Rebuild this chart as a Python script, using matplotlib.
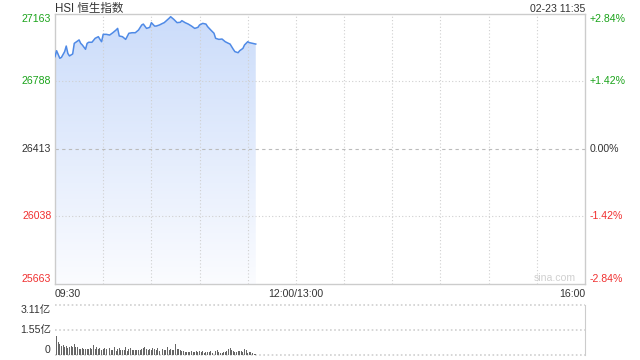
import numpy as np
import matplotlib
matplotlib.use("Agg")
import matplotlib.pyplot as plt
from matplotlib.patches import Polygon

plt.rcParams['font.family'] = ['Liberation Sans', 'Noto Sans CJK SC', 'DejaVu Sans']

# ---- data ----
prev_close = 26413
y_ticks = [27163, 26788, 26413, 26038, 25663]
pct_labels = ["+2.84%", "+1.42%", "0.00%", "-1.42%", "-2.84%"]
tick_colors = ["#1aa31a", "#1aa31a", "#333333", "#f03030", "#f03030"]
x_labels = ["09:30", "12:00/13:00", "16:00"]
x_label_pos = [0, 150, 330]   # trading minutes since 09:30 (lunch break removed)

# minute since open, index level
minutes = [0, 1, 3, 4, 6, 7, 8, 9, 11, 12, 15, 16, 17, 19, 20, 21, 23, 25, 27, 28,
           29, 30, 32, 34, 36, 38, 39, 40, 42, 44, 46, 48, 50, 52, 54, 55, 57, 59, 60, 62,
           63, 65, 67, 68, 71, 72, 74, 76, 78, 79, 81, 83, 85, 87, 89, 90, 92, 94, 95, 97,
           99, 100, 102, 104, 106, 108, 109, 111, 112, 114, 115, 117, 118, 120, 121, 123, 125]
prices = [26926, 26959, 26917, 26922, 26954, 26985, 26944, 26930, 26941, 27000,
          27019, 27000, 26991, 26967, 27000, 27006, 27006, 27028, 27037, 27022,
          27009, 27050, 27050, 27046, 27059, 27074, 27083, 27041, 27037, 27022,
          27056, 27059, 27059, 27074, 27102, 27107, 27083, 27089, 27115, 27096,
          27096, 27102, 27111, 27115, 27139, 27148, 27133, 27115, 27117, 27126,
          27115, 27107, 27096, 27083, 27089, 27102, 27111, 27107, 27093, 27074,
          27056, 27028, 27022, 27024, 27009, 27000, 26996, 26967, 26954, 26948,
          26959, 26972, 26991, 27009, 27004, 27000, 26996]

# volume per minute, in 亿
volume = [3.11, 1.18, 0.81, 0.66, 0.56, 0.60, 0.52, 0.56, 0.46, 0.50,
          0.56, 0.52, 0.66, 0.52, 0.50, 0.40, 0.40, 0.46, 0.40, 0.35,
          0.40, 0.40, 0.42, 0.35, 0.60, 0.35, 0.52, 0.35, 0.46, 0.30,
          0.40, 0.46, 0.35, 0.40, 0.42, 0.31, 0.31, 0.50, 0.25, 0.35,
          0.41, 0.31, 0.30, 0.31, 0.50, 0.25, 0.35, 0.41, 0.30, 0.31,
          0.29, 0.31, 0.31, 0.28, 0.40, 0.46, 0.52, 0.40, 0.31, 0.35,
          0.30, 0.46, 0.40, 0.31, 0.43, 0.25, 0.31, 0.35, 0.31, 0.28,
          0.50, 0.31, 0.35, 0.31, 0.28, 0.70, 0.40, 0.40, 0.30, 0.25,
          0.25, 0.20, 0.19, 0.19, 0.20, 0.25, 0.21, 0.19, 0.25, 0.19,
          0.23, 0.19, 0.22, 0.15, 0.19, 0.20, 0.19, 0.23, 0.15, 0.21,
          0.22, 0.29, 0.19, 0.10, 0.15, 0.19, 0.18, 0.27, 0.35, 0.41,
          0.29, 0.25, 0.19, 0.19, 0.23, 0.23, 0.25, 0.19, 0.35, 0.28,
          0.15, 0.19, 0.18, 0.15, 0.06, 0.05]
vol_ticks = [0, 1.55, 3.11]
vol_labels = ["0", "1.55亿", "3.11亿"]

W, H = 640, 360
fig = plt.figure(figsize=(6.4, 3.6), dpi=100)
fig.patch.set_facecolor("white")

ax = fig.add_axes([55 / W, (H - 284) / H, 530 / W, 270 / H])
axv = fig.add_axes([55 / W, (H - 355) / H, 530 / W, 50 / H])

grid_c = "#d0d0d0"
fs = 7.6

# ---- price panel ----
ax.set_xlim(0, 330)
ax.set_ylim(y_ticks[-1], y_ticks[0])
ax.set_xticks([])
ax.set_yticks([])
for s in ax.spines.values():
    s.set_color("#cccccc")
    s.set_linewidth(1)

# gradient fill under the line
xs = np.array(minutes, dtype=float)
ys = np.array(prices, dtype=float)
poly = np.vstack([np.column_stack([xs, ys]),
                  [[xs[-1], y_ticks[-1]], [xs[0], y_ticks[-1]]]])
patch = Polygon(poly, closed=True, facecolor="none", edgecolor="none")
ax.add_patch(patch)
top_c = np.array([203, 220, 250]) / 255
bot_c = np.array([251, 252, 255]) / 255
t = np.linspace(0, 1, 256)[:, None]
grad = (top_c * (1 - t) + bot_c * t)[:, None, :]
im = ax.imshow(grad, extent=[0, 330, y_ticks[-1], y_ticks[0]], aspect="auto",
               origin="upper", zorder=1)
im.set_clip_path(patch)

# grid drawn over the fill
for xm in range(30, 330, 30):
    ax.axvline(xm, color=grid_c, lw=0.8, ls=(0, (1, 2)), zorder=2)
for yv in y_ticks[1:-1]:
    if yv == prev_close:
        ax.axhline(yv, color="#bbbbbb", lw=0.8, ls=(0, (3, 3)), zorder=2)
    else:
        ax.axhline(yv, color=grid_c, lw=0.8, ls=(0, (1, 2)), zorder=2)

ax.plot(xs, ys, color="#4f8ae6", lw=1.1, zorder=3)

# y labels both sides
for i, (yv, pl, c) in enumerate(zip(y_ticks, pct_labels, tick_colors)):
    va = "top" if i == 0 else ("bottom" if i == len(y_ticks) - 1 else "center")
    ax.text(-0.007, yv, str(yv), transform=ax.get_yaxis_transform(),
            ha="right", va=va, color=c, fontsize=fs)
    ax.text(1.009, yv, pl, transform=ax.get_yaxis_transform(),
            ha="left", va=va, color=c, fontsize=fs)

# x labels
for xp, lab in zip(x_label_pos, x_labels):
    ha = "left" if xp == 0 else ("right" if xp == 330 else "center")
    ax.text(xp, -0.018, lab, transform=ax.get_xaxis_transform(),
            ha=ha, va="top", color="#333333", fontsize=fs)

ax.text(0, 1.008, "HSI 恒生指数", transform=ax.transAxes, ha="left", va="baseline",
        color="#333333", fontsize=8.3)
ax.text(1, 1.008, "02-23 11:35", transform=ax.transAxes, ha="right", va="baseline",
        color="#333333", fontsize=fs)
ax.text(0.943, 0.005, "sina.com", transform=ax.transAxes, ha="center", va="bottom",
        color="#d0d0d0", fontsize=fs)

# ---- volume panel ----
axv.set_xlim(0, 330)
axv.set_ylim(0, vol_ticks[-1])
axv.set_xticks([])
axv.set_yticks([])
for side in ["top", "bottom", "left"]:
    axv.spines[side].set_visible(False)
axv.spines["right"].set_color("#cccccc")
for yv in vol_ticks:
    axv.axhline(yv, color=grid_c, lw=1.2, ls=(0, (1, 1.5)), zorder=1, clip_on=False)
axv.bar(np.arange(len(volume)), volume, width=0.6, color="#666666", zorder=3)

for i, (yv, lab) in enumerate(zip(vol_ticks, vol_labels)):
    va = "bottom" if i == 0 else ("top" if i == len(vol_ticks) - 1 else "center")
    axv.text(-0.008, yv, lab, transform=axv.get_yaxis_transform(),
             ha="right", va=va, color="#333333", fontsize=fs)

fig.savefig("out.png", dpi=100)
